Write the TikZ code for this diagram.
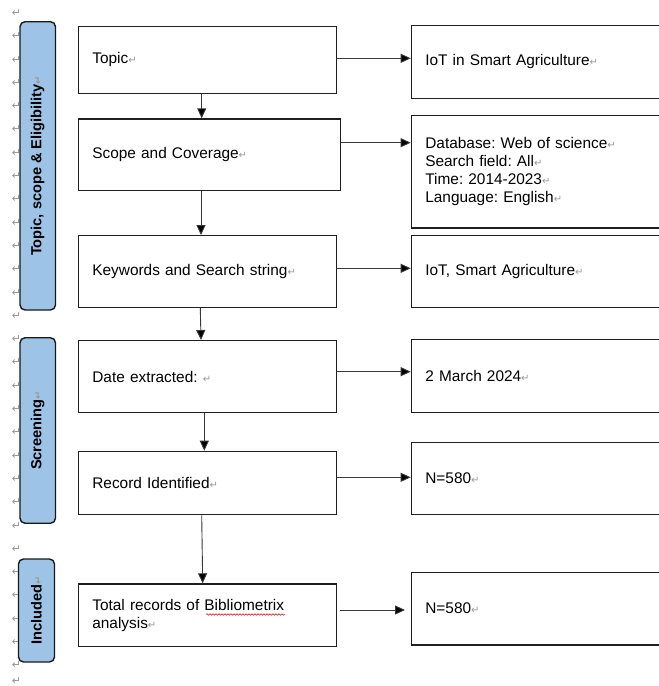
\documentclass[tikz,border=0pt]{standalone}
\usepackage{fontspec}
\setmainfont{Liberation Sans}
\newfontfamily\dvfont{DejaVu Sans}
\usetikzlibrary{arrows.meta,decorations.pathmorphing}
\definecolor{stageblue}{RGB}{157,195,230}
\newcommand{\retmk}{{\dvfont\fontsize{10}{10}\selectfont\textcolor{black!40}{↵}}}
\frenchspacing
\begin{document}
\frenchspacing
\begin{tikzpicture}[x=1pt,y=-1pt,
  box/.style={draw=black!88, line width=1.3pt, rectangle, align=left, inner xsep=14pt, inner ysep=0pt,
    font=\fontsize{15.4}{18}\selectfont, anchor=north west},
  stagebox/.style={draw=black!90, line width=1.4pt, fill=stageblue, rounded corners=5pt, rotate=90,
    inner sep=0pt, font=\bfseries\fontsize{14.6}{16}\selectfont},
  arr/.style={draw=black!78, line width=0.9pt, -{Triangle[length=10pt,width=9pt,fill=black]}},
  pmk/.style={text=black!42, font=\dvfont\fontsize{11}{11}\selectfont, inner sep=0pt}
]
\useasboundingbox (0,0) rectangle (659,686);
\fill[white] (0,0) rectangle (659,686);

% paragraph marks along the left margin
\foreach \k in {0,...,28}{
  \node[pmk] (pm\k) at (16.5,{13+23.3*\k}) {↵};
}
\node[pmk] (pmlast) at (16.5,681) {↵};

% stage labels
\node[stagebox, minimum width=288.3, minimum height=35.5] (s1) at (37.75,165.85) {Topic, scope \& Eligibility\retmk};
\node[stagebox, minimum width=185.5, minimum height=35.5] (s2) at (37.75,430.5) {Screening\retmk};
\node[stagebox, minimum width=103, minimum height=36] (s3) at (36.5,610.5) {Included\retmk};

% left boxes
\node[box, text width=230.3, minimum height=67]   (topic) at (77.7,25.7)  {Topic\retmk};
\node[box, text width=234.3, minimum height=71.7] (scope) at (77.7,118.3) {Scope and Coverage\retmk};
\node[box, text width=230.3, minimum height=71.7] (kw)    at (77.7,235)   {Keywords and Search string\retmk};
\node[box, text width=230.3, minimum height=72]   (date)  at (77.7,340)   {Date extracted: \retmk};
\node[box, text width=230.3, minimum height=63.3] (rec)   at (77.7,450.7) {Record Identified\retmk};
\node[box, text width=230.3, minimum height=62.7] (tot)   at (77.7,583.3) {Total records of Bibliometrix\\analysis\retmk};

% right boxes (run past the right edge)
\node[box, text width=225.4, minimum height=72.7]  (iot) at (410.7,25)    {IoT in Smart Agriculture\retmk};
\node[box, text width=225.4, minimum height=112.3] (db)  at (410.7,115)   {Database: Web of science\retmk\\Search field: All\retmk\\Time: 2014-2023\retmk\\Language: English\retmk};
\node[box, text width=225.4, minimum height=71.7]  (kw2) at (410.7,235)   {IoT, Smart Agriculture\retmk};
\node[box, text width=225.4, minimum height=73]    (d2)  at (410.7,339)   {2 March 2024\retmk};
\node[box, text width=225.4, minimum height=72.3]  (n1)  at (410.7,441.7) {N=580\retmk};
\node[box, text width=225.4, minimum height=72.6]  (n2)  at (410.7,571.7) {N=580\retmk};

% red wavy underline
\draw[red!85!black, line width=0.5pt, decorate, decoration={snake, amplitude=0.8pt, segment length=3pt}]
  (206,614.5) -- (285,614.5);

% column / row coordinates for connectors
\coordinate (xa) at (201.7,0);
\coordinate (xb) at (201,0);
\coordinate (xc1) at (200.3,0);
\coordinate (xc2) at (201,0);
\coordinate (xd) at (204.3,0);
\coordinate (xe1) at (201.7,0);
\coordinate (xe2) at (202.7,0);
\coordinate (ya) at (0,58.3);
\coordinate (yb) at (0,142.7);
\coordinate (yc) at (0,268.3);
\coordinate (yd) at (0,371.7);
\coordinate (ye) at (0,477.3);
\coordinate (yf) at (0,610);

% vertical connectors
\draw[arr] (topic.south -| xa) -- (scope.north -| xa);
\draw[arr] (scope.south -| xb) -- (kw.north -| xb);
\draw[arr] (kw.south -| xc1) -- (date.north -| xc2);
\draw[arr] (date.south -| xd) -- (rec.north -| xd);
\draw[arr] (rec.south -| xe1) -- (tot.north -| xe2);

% horizontal connectors
\draw[arr] (topic.east |- ya) -- (iot.west |- ya);
\draw[arr] (scope.east |- yb) -- (db.west |- yb);
\draw[arr] (kw.east |- yc) -- (kw2.west |- yc);
\draw[arr] (date.east |- yd) -- (d2.west |- yd);
\draw[arr] (rec.east |- ye) -- (n1.west |- ye);
\draw[arr, shorten <=2.3pt, shorten >=5.7pt] (tot.east |- yf) -- (n2.west |- yf);
\end{tikzpicture}
\end{document}
